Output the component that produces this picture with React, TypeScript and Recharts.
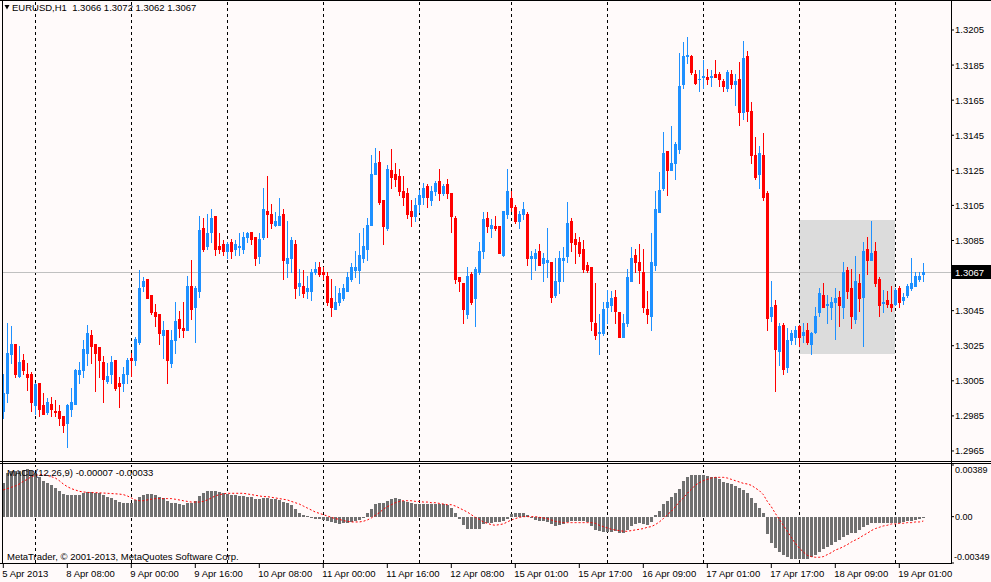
import React from "react";
import { ComposedChart, Bar, Line, XAxis, YAxis, ReferenceLine, ReferenceArea } from "recharts";

// ---------- data (EURUSD H1) ----------
const symbol = "EURUSD";
const timeframe = "H1";

const openP = [
1.2988,1.2998,1.3020,1.3026,1.3008,1.3017,1.3009,1.3009,1.2991,1.3004,
1.2991,1.2987,1.2992,1.2988,1.2988,1.2985,1.2981,1.2989,1.2992,1.3009,
1.3011,1.3021,1.3031,1.3026,1.3024,1.3016,1.3005,1.3009,1.3017,1.3004,
1.3004,1.3009,1.3018,1.3017,1.3027,1.3059,1.3063,1.3054,1.3044,1.3043,
1.3031,1.3034,1.3015,1.3028,1.3040,1.3035,1.3034,1.3059,1.3047,1.3056,
1.3092,1.3082,1.3090,1.3099,1.3082,1.3083,1.3079,1.3084,1.3080,1.3081,
1.3080,1.3087,1.3090,1.3087,1.3076,1.3087,1.3102,1.3100,1.3094,1.3094,
1.3100,1.3072,1.3075,1.3083,1.3059,1.3059,1.3056,1.3056,1.3067,1.3070,
1.3067,1.3065,1.3052,1.3046,1.3050,1.3052,1.3056,1.3063,1.3068,1.3068,
1.3075,1.3080,1.3094,1.3123,1.3130,1.3108,1.3092,1.3125,1.3123,1.3122,
1.3113,1.3112,1.3102,1.3099,1.3106,1.3110,1.3116,1.3108,1.3113,1.3119,
1.3112,1.3117,1.3112,1.3098,1.3064,1.3061,1.3043,1.3066,1.3052,1.3067,
1.3079,1.3098,1.3092,1.3093,1.3093,1.3077,1.3100,1.3109,1.3104,1.3096,
1.3100,1.3100,1.3075,1.3075,1.3079,1.3072,1.3073,1.3073,1.3054,1.3062,
1.3074,1.3076,1.3096,1.3086,1.3084,1.3080,1.3071,1.3070,1.3038,1.3032,
1.3032,1.3047,1.3048,1.3053,1.3044,1.3030,1.3038,1.3062,1.3077,1.3073,
1.3067,1.3046,1.3042,1.3071,1.3101,1.3115,1.3136,1.3125,1.3129,1.3137,
1.3174,1.3190,1.3190,1.3180,1.3177,1.3178,1.3178,1.3178,1.3180,1.3180,
1.3176,1.3172,1.3180,1.3174,1.3177,1.3158,1.3190,1.3159,1.3134,1.3123,
1.3134,1.3112,1.3042,1.3048,1.3022,1.3037,1.3013,1.3028,1.3030,1.3036,
1.3031,1.3034,1.3026,1.3033,1.3044,1.3054,1.3048,1.3047,1.3050,1.3053,
1.3047,1.3068,1.3058,1.3040,1.3061,1.3053,1.3080,1.3074,1.3079,1.3063,
1.30496,1.3051,1.3049,1.3049,1.3058,1.3051,1.3054,1.3058,1.3059,1.3063,
1.3066];

const highP = [
1.3009,1.3038,1.3036,1.3026,1.3025,1.3020,1.3015,1.3010,1.3004,1.3004,
1.2998,1.2995,1.2996,1.2994,1.2991,1.2985,1.2992,1.3001,1.3012,1.3016,
1.3028,1.3037,1.3034,1.3026,1.3024,1.3019,1.3015,1.3019,1.3017,1.3007,
1.3013,1.3018,1.3021,1.3030,1.3068,1.3064,1.3063,1.3054,1.3049,1.3043,
1.3039,1.3034,1.3034,1.3050,1.3045,1.3050,1.3065,1.3074,1.3059,1.3099,
1.3098,1.3100,1.3103,1.3099,1.3089,1.3085,1.3084,1.3086,1.3085,1.3089,
1.3090,1.3090,1.3090,1.3087,1.3089,1.3115,1.3122,1.3106,1.3101,1.3109,
1.3103,1.3096,1.3087,1.3085,1.3069,1.3068,1.3065,1.3069,1.3073,1.3073,
1.3070,1.3067,1.3063,1.3059,1.3058,1.3060,1.3067,1.3072,1.3079,1.3089,
1.3092,1.3098,1.3134,1.3138,1.3136,1.3108,1.3128,1.3137,1.3129,1.3126,
1.3122,1.3115,1.3108,1.3109,1.3114,1.3118,1.3117,1.3116,1.3119,1.3126,
1.3117,1.3120,1.3112,1.3099,1.3064,1.3061,1.3070,1.3067,1.3070,1.3084,
1.3101,1.3101,1.3097,1.3099,1.3093,1.3102,1.3126,1.3113,1.3105,1.3102,
1.3107,1.3101,1.3079,1.3080,1.3083,1.3078,1.3092,1.3073,1.3075,1.3079,
1.3081,1.3107,1.3098,1.3089,1.3087,1.3085,1.3073,1.3070,1.3061,1.3043,
1.3050,1.3057,1.3056,1.3057,1.3044,1.3043,1.3069,1.3081,1.3080,1.3083,
1.3080,1.3056,1.3089,1.3113,1.3124,1.3147,1.3136,1.3150,1.3141,1.3192,
1.3198,1.3201,1.3191,1.3182,1.3182,1.3188,1.3183,1.3182,1.3188,1.3181,
1.3177,1.3182,1.3182,1.3180,1.3187,1.3199,1.3193,1.3164,1.3144,1.3139,
1.3146,1.3113,1.3062,1.3051,1.3038,1.3038,1.3035,1.3034,1.3036,1.3037,
1.3038,1.3038,1.3033,1.3047,1.3058,1.3061,1.3054,1.3053,1.3058,1.3056,
1.3073,1.3070,1.3069,1.3076,1.3066,1.3084,1.3087,1.3096,1.3084,1.3064,
1.3057,1.3056,1.3059,1.3058,1.3059,1.3055,1.3060,1.3075,1.3067,1.3067,
1.3072];

const lowP = [
1.2984,1.2993,1.3015,1.3007,1.3007,1.3009,1.3000,1.2988,1.2986,1.2985,
1.2986,1.2986,1.2985,1.2985,1.2980,1.2976,1.2967,1.2985,1.2992,1.3004,
1.3007,1.3014,1.3015,1.2999,1.3007,1.2993,1.3004,1.3004,1.3000,1.2990,
1.2999,1.3004,1.3008,1.3014,1.3026,1.3056,1.3052,1.3043,1.3036,1.3026,
1.3018,1.3004,1.3013,1.3021,1.3030,1.3030,1.3034,1.3040,1.3027,1.3053,
1.3079,1.3080,1.3084,1.3077,1.3078,1.3077,1.3075,1.3075,1.3077,1.3077,
1.3078,1.3084,1.3083,1.3071,1.3072,1.3086,1.3087,1.3092,1.3093,1.3094,
1.3063,1.3064,1.3067,1.3052,1.3054,1.3053,1.3052,1.3051,1.3066,1.3065,
1.3063,1.3048,1.3042,1.3046,1.3048,1.3051,1.3056,1.3062,1.3064,1.3061,
1.3073,1.3074,1.3094,1.3123,1.3106,1.3083,1.3091,1.3115,1.3116,1.3111,
1.3105,1.3098,1.3093,1.3096,1.3101,1.3106,1.3104,1.3105,1.3111,1.3108,
1.3111,1.3109,1.3090,1.3061,1.3056,1.3038,1.3041,1.3049,1.3036,1.3066,
1.3075,1.3090,1.3087,1.3091,1.3078,1.3076,1.3098,1.3102,1.3095,1.3092,
1.3097,1.3071,1.3063,1.3068,1.3071,1.3062,1.3064,1.3050,1.3053,1.3055,
1.3062,1.3073,1.3079,1.3072,1.3076,1.3067,1.3067,1.3034,1.3029,1.3020,
1.3031,1.3038,1.3045,1.3038,1.3030,1.3030,1.3036,1.3062,1.3067,1.3061,
1.3044,1.3038,1.3034,1.3068,1.3101,1.3114,1.3111,1.3125,1.3120,1.3135,
1.3172,1.3186,1.3180,1.3174,1.3170,1.3172,1.3174,1.3173,1.3178,1.3173,
1.3170,1.3170,1.3172,1.3162,1.3151,1.3154,1.3153,1.3129,1.3120,1.3115,
1.3108,1.3034,1.3039,1.2999,1.3014,1.3009,1.3010,1.3026,1.3026,1.3025,
1.3027,1.3026,1.3020,1.3032,1.3042,1.3047,1.3038,1.3040,1.3029,1.3036,
1.3041,1.3052,1.3035,1.3038,1.3045,1.3025,1.3066,1.3074,1.3059,1.3042,
1.3044,1.3047,1.3045,1.3048,1.3047,1.3049,1.3053,1.3057,1.3059,1.3062,
1.3062];

const closeP = [
1.2998,1.3021,1.3026,1.3009,1.3016,1.3011,1.3007,1.2993,1.3003,1.2989,
1.2986,1.2993,1.2989,1.2987,1.2984,1.2980,1.2991,1.2993,1.3011,1.3011,
1.3023,1.3032,1.3025,1.3021,1.3017,1.3006,1.3008,1.3016,1.3001,1.3002,
1.3009,1.3017,1.3017,1.3029,1.3058,1.3062,1.3052,1.3044,1.3042,1.3032,
1.3034,1.3017,1.3028,1.3039,1.3035,1.3034,1.3059,1.3046,1.3058,1.3091,
1.3080,1.3089,1.3098,1.3080,1.3080,1.3079,1.3083,1.3079,1.3083,1.3082,
1.3087,1.3089,1.3086,1.3075,1.3086,1.3103,1.3100,1.3095,1.3096,1.3099,
1.3074,1.3075,1.3085,1.3058,1.3061,1.3055,1.3058,1.3067,1.3069,1.3066,
1.3066,1.3050,1.3047,1.3050,1.3055,1.3058,1.3064,1.3070,1.3070,1.3077,
1.3082,1.3094,1.3123,1.3129,1.3107,1.3093,1.3126,1.3121,1.3120,1.3113,
1.3110,1.3100,1.3099,1.3105,1.3111,1.3115,1.3110,1.3113,1.3118,1.3112,
1.3116,1.3112,1.3099,1.3063,1.3062,1.3046,1.3065,1.3050,1.3069,1.3079,
1.3097,1.3093,1.3094,1.3092,1.3078,1.3102,1.3113,1.3104,1.3096,1.3100,
1.3103,1.3075,1.3076,1.3078,1.3071,1.3075,1.3074,1.3053,1.3062,1.3075,
1.3075,1.3095,1.3084,1.3083,1.3078,1.3069,1.3068,1.3039,1.3031,1.3033,
1.3046,1.3050,1.3052,1.3045,1.3030,1.3038,1.3064,1.3075,1.3073,1.3068,
1.3047,1.3043,1.3073,1.3103,1.3114,1.3135,1.3125,1.3129,1.3140,1.3173,
1.3190,1.3191,1.3181,1.3175,1.3177,1.3179,1.3177,1.3179,1.3178,1.3177,
1.3173,1.3181,1.3174,1.3176,1.3158,1.3189,1.3159,1.3134,1.3121,1.3135,
1.3110,1.3041,1.3047,1.3023,1.3036,1.3012,1.3028,1.3032,1.3034,1.3030,
1.3033,1.3027,1.3032,1.3042,1.3055,1.3047,1.3049,1.3050,1.3052,1.3048,
1.3067,1.3056,1.3042,1.3062,1.3052,1.3079,1.3074,1.3078,1.3061,1.3048,
1.30499,1.3049,1.3047,1.3057,1.3050,1.3053,1.3059,1.3061,1.3065,1.3065,
1.3067];

const macdHist = [
0.00256,0.00326,0.00341,0.00346,0.00346,0.00351,0.00356,0.00341,0.00326,0.00301,
0.00271,0.00251,0.00241,0.00216,0.00191,0.00171,0.00166,0.00161,0.00166,0.00166,
0.00181,0.00186,0.00186,0.00181,0.00176,0.00161,0.00151,0.00141,0.00126,0.00110,
0.00105,0.00105,0.00105,0.00126,0.00146,0.00166,0.00171,0.00171,0.00166,0.00151,
0.00141,0.00115,0.00105,0.00100,0.00095,0.00090,0.00105,0.00105,0.00115,0.00156,
0.00176,0.00191,0.00191,0.00191,0.00186,0.00176,0.00171,0.00166,0.00161,0.00156,
0.00156,0.00151,0.00146,0.00131,0.00131,0.00141,0.00141,0.00136,0.00131,0.00126,
0.00110,0.00100,0.00085,0.00055,0.00030,0.00015,0.00005,-0.00005,-0.00015,-0.00015,
-0.00025,-0.00035,-0.00040,-0.00045,-0.00055,-0.00045,-0.00045,-0.00040,-0.00030,-0.00025,
-0.00010,0.00025,0.00055,0.00095,0.00105,0.00105,0.00115,0.00131,0.00141,0.00136,
0.00120,0.00110,0.00100,0.00095,0.00095,0.00095,0.00095,0.00095,0.00095,0.00095,
0.00095,0.00090,0.00065,0.00025,-0.00015,-0.00065,-0.00090,-0.00095,-0.00095,-0.00090,
-0.00055,-0.00050,-0.00045,-0.00040,-0.00040,-0.00035,-0.00015,0.00020,0.00025,0.00025,
0.00030,0.00010,-0.00010,-0.00025,-0.00030,-0.00035,-0.00040,-0.00055,-0.00070,-0.00065,
-0.00055,-0.00040,-0.00035,-0.00035,-0.00035,-0.00035,-0.00040,-0.00070,-0.00100,-0.00110,
-0.00115,-0.00115,-0.00115,-0.00110,-0.00125,-0.00125,-0.00100,-0.00070,-0.00055,-0.00050,
-0.00055,-0.00060,-0.00040,0.00010,0.00045,0.00095,0.00120,0.00151,0.00176,0.00211,
0.00266,0.00296,0.00311,0.00316,0.00316,0.00311,0.00306,0.00301,0.00296,0.00281,
0.00261,0.00251,0.00246,0.00231,0.00216,0.00201,0.00181,0.00141,0.00100,0.00065,
0.00025,-0.00131,-0.00196,-0.00236,-0.00266,-0.00286,-0.00306,-0.00316,-0.00321,-0.00321,
-0.00316,-0.00316,-0.00301,-0.00286,-0.00266,-0.00246,-0.00226,-0.00211,-0.00191,-0.00176,
-0.00151,-0.00136,-0.00125,-0.00120,-0.00100,-0.00080,-0.00065,-0.00045,-0.00045,-0.00045,
-0.00050,-0.00050,-0.00050,-0.00050,-0.00045,-0.00040,-0.00035,-0.00030,-0.00025,-0.00020,
-0.00007];

const macdSignal = [
0.00201,0.00211,0.00221,0.00231,0.00246,0.00266,0.00281,0.00301,0.00311,0.00316,
0.00316,0.00311,0.00301,0.00291,0.00271,0.00246,0.00226,0.00211,0.00201,0.00191,
0.00186,0.00183,0.00181,0.00181,0.00179,0.00178,0.00176,0.00174,0.00172,0.00170,
0.00166,0.00156,0.00141,0.00126,0.00120,0.00120,0.00126,0.00131,0.00136,0.00136,
0.00136,0.00136,0.00136,0.00131,0.00126,0.00120,0.00115,0.00110,0.00110,0.00110,
0.00115,0.00126,0.00141,0.00156,0.00166,0.00171,0.00176,0.00176,0.00176,0.00176,
0.00176,0.00171,0.00166,0.00161,0.00156,0.00151,0.00151,0.00146,0.00141,0.00136,
0.00131,0.00126,0.00115,0.00105,0.00095,0.00080,0.00065,0.00050,0.00035,0.00025,
0.00015,0.00005,-0.00005,-0.00015,-0.00020,-0.00030,-0.00035,-0.00040,-0.00040,-0.00040,
-0.00035,-0.00025,-0.00010,0.00010,0.00030,0.00055,0.00075,0.00090,0.00105,0.00115,
0.00120,0.00120,0.00120,0.00115,0.00115,0.00110,0.00110,0.00105,0.00105,0.00100,
0.00095,0.00090,0.00090,0.00080,0.00065,0.00050,0.00035,0.00015,-0.00005,-0.00020,
-0.00040,-0.00050,-0.00060,-0.00065,-0.00060,-0.00055,-0.00040,-0.00025,-0.00015,-0.00005,
0,0,0,0,-0.00005,-0.00010,-0.00015,-0.00025,-0.00035,-0.00040,
-0.00045,-0.00045,-0.00045,-0.00045,-0.00045,-0.00045,-0.00045,-0.00045,-0.00050,-0.00065,
-0.00075,-0.00085,-0.00095,-0.00100,-0.00105,-0.00110,-0.00110,-0.00105,-0.00100,-0.00095,
-0.00090,-0.00080,-0.00075,-0.00060,-0.00040,-0.00015,0.00015,0.00040,0.00075,0.00110,
0.00141,0.00176,0.00206,0.00236,0.00256,0.00271,0.00281,0.00291,0.00296,0.00296,
0.00296,0.00291,0.00281,0.00271,0.00261,0.00251,0.00246,0.00236,0.00216,0.00196,
0.00166,0.00115,0.00075,0.00025,-0.00020,-0.00065,-0.00110,-0.00156,-0.00201,-0.00236,
-0.00266,-0.00291,-0.00301,-0.00306,-0.00306,-0.00301,-0.00286,-0.00271,-0.00251,-0.00241,
-0.00226,-0.00211,-0.00191,-0.00176,-0.00161,-0.00141,-0.00125,-0.00105,-0.00090,-0.00080,
-0.00070,-0.00065,-0.00055,-0.00055,-0.00050,-0.00050,-0.00045,-0.00045,-0.00040,-0.00040,
-0.00033];

// bar indices where a new day starts (dashed separators)
const daySeparators = [8, 32, 56, 80, 104, 127, 151, 175, 199, 223];
// time-scale labels
const timeTickIdx = [0, 16, 32, 48, 64, 80, 96, 112, 128, 144, 160, 176, 192, 208, 224];
const timeTickLabels = [
  "5 Apr 2013", "8 Apr 08:00", "9 Apr 00:00", "9 Apr 16:00", "10 Apr 08:00",
  "11 Apr 00:00", "11 Apr 16:00", "12 Apr 08:00", "15 Apr 01:00", "15 Apr 17:00",
  "16 Apr 09:00", "17 Apr 01:00", "17 Apr 17:00", "18 Apr 09:00", "19 Apr 01:00",
];
const priceTicks = [1.2965, 1.2985, 1.3005, 1.3025, 1.3045, 1.3085, 1.3105, 1.3125, 1.3145, 1.3165, 1.3185, 1.3205];
const priceDomain = [1.295928, 1.322153];
const macdAxisMin = -0.00349;
const macdAxisMax = 0.00389;
const macdTicks = [macdAxisMin, 0, macdAxisMax];
// rectangle object drawn on the chart
const boxStart = 199;
const boxEnd = 223;
const boxLow = 1.3020;
const boxHigh = 1.30967;

// ---------- styling ----------
const FONT = "'Liberation Sans', Arial, sans-serif";
const FS = 9.5;
const BULL = "#1E90FF";
const BEAR = "#FF0000";
const BG = "#FFFAFA";
const W = 991;
const xDomain = [-0.325, 236.925];

const last = openP.length - 1;
const lastPrice = closeP[last];

const rows = openP.map((o, i) => ({
  i,
  open: o,
  high: highP[i],
  low: lowP[i],
  close: closeP[i],
  range: [lowP[i], highP[i]],
  macd: macdHist[i],
  signal: macdSignal[i],
}));

function Candle(props: any) {
  const { x, y, width, height, payload } = props;
  if (x == null || y == null || !payload) return null;
  const top = Math.min(y, y + height);
  const h = Math.abs(height);
  const { open, close, high, low } = payload;
  const span = high - low;
  const k = span > 0 ? h / span : 0;
  const yO = top + (high - open) * k;
  const yC = top + (high - close) * k;
  const cx = Math.round(x + width / 2);
  const color = close >= open ? BULL : BEAR;
  const wTop = Math.round(top);
  const wBot = Math.max(wTop + 1, Math.round(top + h) + 1);
  const bTop = Math.round(Math.min(yO, yC));
  const bBot = Math.max(bTop + 1, Math.round(Math.max(yO, yC)) + 1);
  return (
    <g shapeRendering="crispEdges">
      <rect x={cx} y={wTop} width={1} height={wBot - wTop} fill={color} />
      <rect x={cx - 1} y={bTop} width={3} height={bBot - bTop} fill={color} />
    </g>
  );
}

function HistBar(props: any) {
  const { x, y, width, height } = props;
  if (x == null || y == null) return null;
  const top = Math.min(y, y + height);
  const h = Math.abs(height);
  const cx = Math.round(x + width / 2);
  const t = Math.round(top);
  const b = Math.max(t + 1, Math.round(top + h));
  return <rect x={cx - 1} y={t} width={3} height={b - t} fill="#707070" shapeRendering="crispEdges" />;
}

function DashV(p: any) {
  const xx = Math.round(p.x1) + 0.5;
  return (
    <line x1={xx} x2={xx} y1={p.y1} y2={p.y2} stroke="#000" strokeWidth={1}
      strokeDasharray="3 3" shapeRendering="crispEdges" />
  );
}

function PriceLine(p: any) {
  const yy = Math.round(p.y1) + 0.5;
  return <line x1={p.x1} x2={p.x2} y1={yy} y2={yy} stroke="#C0C0C0" strokeWidth={1} shapeRendering="crispEdges" />;
}

function PriceTag(props: any) {
  const vb = props.viewBox || {};
  const right = (vb.x || 0) + (vb.width || 0);
  const cy = Math.round(vb.y || 0);
  return (
    <g>
      <rect x={right + 1} y={cy - 7} width={39} height={14} fill="#000" shapeRendering="crispEdges" />
      <text x={right + 4} y={cy + 4} fill="#fff" fontSize={FS} fontFamily={FONT}>
        {lastPrice.toFixed(4)}
      </text>
    </g>
  );
}

function BoxShape(p: any) {
  return <rect x={p.x} y={p.y} width={p.width} height={p.height} fill="#DCDCDC" shapeRendering="crispEdges" />;
}

function PriceTick(p: any) {
  return (
    <text x={p.x} y={p.y + 3.5} fontSize={FS} fontFamily={FONT} fill="#000">
      {Number(p.payload.value).toFixed(4)}
    </text>
  );
}

function MacdTick(p: any) {
  const v = Number(p.payload.value);
  const dy = v > 0 ? 8.3 : v < 0 ? -3 : 3.4;
  const label = v === 0 ? "0.00" : v.toFixed(5);
  return (
    <text x={v < 0 ? p.x - 1 : p.x} y={p.y + dy} fontSize={9} fontFamily={FONT} fill="#000">
      {label}
    </text>
  );
}

function TimeTick(p: any) {
  const idx = timeTickIdx.indexOf(Number(p.payload.value));
  return (
    <text x={p.x - 1} y={p.y + 7} fontSize={FS} fontFamily={FONT} fill="#000" textAnchor="start">
      {idx >= 0 ? timeTickLabels[idx] : ""}
    </text>
  );
}

export default function App() {
  const title = `${symbol},${timeframe}  ${openP[last].toFixed(4)} ${highP[last].toFixed(4)} ${lowP[last].toFixed(4)} ${closeP[last].toFixed(4)}`;
  const macdTitle = `MACD(12,26,9) ${macdHist[last].toFixed(5)} ${macdSignal[last].toFixed(5)}`;
  return (
    <div style={{ position: "absolute", left: 0, top: 0, width: W, height: 582, background: BG, overflow: "hidden" }}>
      <div style={{ position: "absolute", left: 0, top: 0 }}>
        <ComposedChart width={W} height={461} data={rows} margin={{ top: 1, right: 0, bottom: 0, left: 2 }}>
          <XAxis dataKey="i" type="number" domain={xDomain} allowDataOverflow hide />
          <YAxis
            orientation="right"
            width={40}
            type="number"
            domain={priceDomain}
            allowDataOverflow
            ticks={priceTicks}
            interval={0}
            axisLine={false}
            tickLine={{ stroke: "#000" }}
            tickSize={3}
            tickMargin={1}
            tick={<PriceTick />}
          />
          <ReferenceArea x1={boxStart} x2={boxEnd} y1={boxLow} y2={boxHigh} shape={<BoxShape />} ifOverflow="visible" zIndex={10} />
          {daySeparators.map((d) => (
            <ReferenceLine key={d} x={d} shape={<DashV />} zIndex={20} />
          ))}
          <ReferenceLine y={lastPrice} shape={<PriceLine />} label={<PriceTag />} zIndex={30} />
          <Bar dataKey="range" shape={<Candle />} barSize={3} isAnimationActive={false} />
        </ComposedChart>
      </div>
      <div style={{ position: "absolute", left: 0, top: 463 }}>
        <ComposedChart width={W} height={119} data={rows} margin={{ top: 2, right: 0, bottom: 0, left: 2 }}>
          <XAxis
            dataKey="i"
            type="number"
            domain={xDomain}
            allowDataOverflow
            ticks={timeTickIdx}
            interval={0}
            height={19}
            axisLine={false}
            tickLine={{ stroke: "#000" }}
            tickSize={5}
            tickMargin={2}
            tick={<TimeTick />}
          />
          <YAxis
            orientation="right"
            width={40}
            type="number"
            domain={[macdAxisMin, macdAxisMax]}
            allowDataOverflow
            ticks={macdTicks}
            interval={0}
            axisLine={false}
            tickLine={{ stroke: "#000" }}
            tickSize={3}
            tickMargin={1}
            tick={<MacdTick />}
          />
          {daySeparators.map((d) => (
            <ReferenceLine key={d} x={d} shape={<DashV />} zIndex={20} />
          ))}
          <Bar dataKey="macd" shape={<HistBar />} barSize={3} isAnimationActive={false} />
          <Line dataKey="signal" type="linear" stroke="#FF0000" strokeWidth={1} strokeDasharray="2 2" dot={false} activeDot={false} isAnimationActive={false} />
        </ComposedChart>
      </div>
      <svg width={W} height={582} style={{ position: "absolute", left: 0, top: 0, pointerEvents: "none" }}>
        <g shapeRendering="crispEdges" stroke="#000" strokeWidth={1}>
          <line x1={0} x2={W} y1={0.5} y2={0.5} />
          <line x1={2.5} x2={2.5} y1={0} y2={564} />
          <line x1={951.5} x2={951.5} y1={0} y2={564} />
          <line x1={0} x2={W} y1={461.5} y2={461.5} />
          <line x1={0} x2={W} y1={463.5} y2={463.5} />
          <line x1={0} x2={952} y1={563.5} y2={563.5} />
        </g>
        <polygon points="4.5,5 9.5,5 7,9.5" fill="#000" />
        <text x={12} y={11} fontSize={FS} fontFamily={FONT} fill="#000" style={{ whiteSpace: "pre" }}>{title}</text>
        <text x={7} y={476} fontSize={FS} fontFamily={FONT} fill="#000">{macdTitle}</text>
        <text x={7} y={560} fontSize={FS} fontFamily={FONT} fill="#000">MetaTrader, © 2001-2013, MetaQuotes Software Corp.</text>
      </svg>
    </div>
  );
}
